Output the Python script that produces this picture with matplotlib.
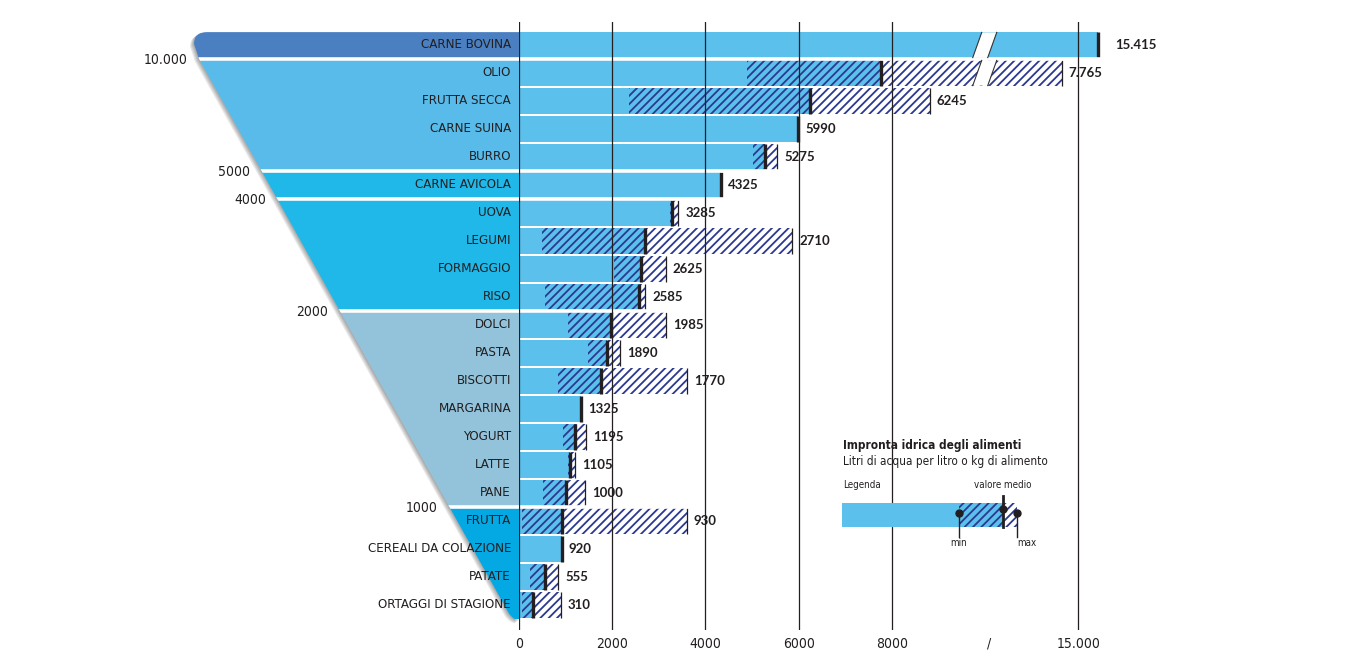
import numpy as np
import matplotlib.pyplot as plt
from matplotlib.path import Path
from matplotlib.patches import PathPatch, Polygon

plt.rcParams['font.family'] = ['DejaVu Sans']
plt.rcParams['font.stretch'] = 'condensed'
plt.rcParams['hatch.color'] = '#2b3990'
plt.rcParams['hatch.linewidth'] = 1.3

# data: water footprint, litres per kg / litre of food
foods = ['CARNE BOVINA', 'OLIO', 'FRUTTA SECCA', 'CARNE SUINA', 'BURRO', 'CARNE AVICOLA',
         'UOVA', 'LEGUMI', 'FORMAGGIO', 'RISO', 'DOLCI', 'PASTA', 'BISCOTTI', 'MARGARINA',
         'YOGURT', 'LATTE', 'PANE', 'FRUTTA', 'CEREALI DA COLAZIONE', 'PATATE',
         'ORTAGGI DI STAGIONE']
means = [15415, 7765, 6245, 5990, 5275, 4325, 3285, 2710, 2625, 2585, 1985, 1890, 1770,
         1325, 1195, 1105, 1000, 930, 920, 555, 310]
mins = [15415, 4890, 2360, 5990, 5030, 4325, 3240, 490, 2040, 560, 1050, 1480, 840,
        1325, 950, 1050, 520, 60, 920, 240, 60]
maxs = [15415, 14650, 8820, 5990, 5540, 4325, 3420, 5860, 3150, 2710, 3150, 2170, 3600,
        1325, 1440, 1200, 1420, 3600, 920, 840, 900]
value_labels = ['15.415', '7.765', '6245', '5990', '5275', '4325', '3285', '2710', '2625',
                '2585', '1985', '1890', '1770', '1325', '1195', '1105', '1000', '930', '920',
                '555', '310']

# groups on the left funnel (first row of each group) and threshold labels
group_starts = [0, 1, 5, 6, 10, 17]
group_colors = ['#4a7fc1', '#58bbea', '#1fb8e8', '#1fb8e8', '#93c3db', '#04a9e4']
thresholds = ['10.000', '5000', '4000', '2000', '1000']

xticks = [0, 2000, 4000, 6000, 8000, 15000]
xtick_labels = ['0', '2000', '4000', '6000', '8000', '15.000']

BAR_BLUE = '#5bc0eb'
TEXT = '#231f20'

# broken axis: 10000..13000 is cut out
B_LO, B_HI = 10000, 13000


def fwd(v):
    v = np.asarray(v, float)
    return np.where(v <= B_LO, v, np.where(v >= B_HI, v - (B_HI - B_LO), B_LO))


def inv(t):
    t = np.asarray(t, float)
    return np.where(t <= B_LO, t, t + (B_HI - B_LO))


W, H = 1345, 667
fig = plt.figure(figsize=(W / 100, H / 100), dpi=100)
y_top, y_bot = 22, 630
ylim = ((y_bot - 45) / 28, (y_top - 45) / 28)
ax_rect_y = ((H - y_bot) / H, (y_bot - y_top) / H)

ax = fig.add_axes([519 / W, ax_rect_y[0], 681 / W, ax_rect_y[1]])
axf = fig.add_axes([0, ax_rect_y[0], 519 / W, ax_rect_y[1]])
for a in (ax, axf):
    a.set_ylim(*ylim)
    a.patch.set_alpha(0)
    for s in a.spines.values():
        s.set_visible(False)

ax.set_xscale('function', functions=(fwd, inv))
ax.set_xlim(0, float(inv(14614)))

y = np.arange(len(foods))
mins_a, means_a, maxs_a = np.array(mins), np.array(means), np.array(maxs)
bh = 0.9

# bars
ax.barh(y, mins_a, height=bh, color=BAR_BLUE, linewidth=0, zorder=2)
rng = means_a > mins_a
ax.barh(y[rng], (means_a - mins_a)[rng], left=mins_a[rng], height=bh, color=BAR_BLUE,
        hatch='////', linewidth=0, zorder=2)
up = maxs_a > means_a
ax.barh(y[up], (maxs_a - means_a)[up], left=means_a[up], height=bh, color='white',
        hatch='////', linewidth=0, zorder=2)
ax.vlines(maxs_a[up], y[up] - bh / 2, y[up] + bh / 2, color=TEXT, lw=0.9, zorder=3)
ax.vlines(means_a, y - bh / 2, y + bh / 2, color=TEXT, lw=2.4, zorder=4)

for yi, xv, lab in zip(y, maxs_a, value_labels):
    pad = 13 if lab == value_labels[0] else 5
    ax.annotate(lab, (xv, yi), xytext=(pad, 0), textcoords='offset points', va='center',
                ha='left', fontsize=9.5, fontweight='bold', color=TEXT,
                family=['Lato', 'DejaVu Sans'], fontstretch='normal')

# gridlines on top of bars
for xv in xticks:
    ax.axvline(xv, color=TEXT, lw=0.9, zorder=5)

# axis break marker on the two longest rows
for r in (0, 1):
    t_top = np.array([B_LO - 70, B_LO + 252])
    t_bot = np.array([B_LO - 263, B_LO + 59])
    yt, yb = r - bh / 2, r + bh / 2
    ax.add_patch(Polygon([(inv(t_top[0]), yt), (inv(t_top[1]), yt),
                          (inv(t_bot[1]), yb), (inv(t_bot[0]), yb)],
                         closed=True, facecolor='white', edgecolor='none', zorder=6))
    for k in (0, 1):
        ax.plot([inv(t_top[k]), inv(t_bot[k])], [yt, yb], color='#333333', lw=0.8, zorder=7)

ax.set_xticks(xticks + [float(inv(B_LO + 80))])
ax.set_xticklabels(xtick_labels + ['/'])
ax.tick_params(axis='x', length=0, pad=5, labelsize=10, labelcolor=TEXT)
ax.set_yticks([])

# left funnel (x in pixels, y in rows)
axf.set_xlim(0, 519)
axf.set_xticks([])
axf.set_yticks([])


def diag(r):
    return 192.2 + 15.6 * r


top, bottom = -0.46, 20.55
verts = [(519, top), (207, top), (194, top), (194, top + 0.42), (199, 0.5),
         (diag(20.3), 20.3), (514, bottom), (519, bottom), (519, top)]
codes = [Path.MOVETO, Path.LINETO, Path.CURVE3, Path.CURVE3, Path.LINETO,
         Path.LINETO, Path.CURVE3, Path.CURVE3, Path.CLOSEPOLY]
funnel = Path(verts, codes)

# soft shadow
for k in range(1, 5):
    sh = Path([(vx - 1.0 * k, vy + 0.025 * k) for vx, vy in verts], codes)
    axf.add_patch(PathPatch(sh, facecolor='black', edgecolor='none', alpha=0.09, zorder=1))

clip = PathPatch(funnel, facecolor='none', edgecolor='none', zorder=2)
axf.add_patch(clip)
bounds = group_starts + [len(foods)]
for i, col in enumerate(group_colors):
    band = axf.axhspan(bounds[i] - 0.5, bounds[i + 1] - 0.5, color=col, lw=0, zorder=2)
    band.set_clip_path(clip)
for b, lab in zip(group_starts[1:], thresholds):
    ln = axf.axhline(b - 0.5, color='white', lw=2.6, zorder=3)
    ln.set_clip_path(clip)
    axf.text(diag(b - 0.5) - 12, b - 0.46, lab, ha='right', va='center', fontsize=10,
             color=TEXT)
# white separators continue across the bars
for b in group_starts[1:]:
    ax.axhline(b - 0.5, color='white', lw=2.6, zorder=4.5)

for yi, name in zip(y, foods):
    axf.text(511, yi, name, ha='right', va='center', fontsize=9.5, color=TEXT, zorder=4)

# legend box
axl = fig.add_axes([835 / W, (H - 555) / H, 230 / W, 120 / H])
axl.set_xlim(835, 1065)
axl.set_ylim(555, 435)
axl.axis('off')
lg_min, lg_mean, lg_max = 959, 1003, 1017
axl.text(843, 446, 'Impronta idrica degli alimenti', fontsize=8.5, fontweight='bold',
         color=TEXT, va='center')
axl.text(843, 461, 'Litri di acqua per litro o kg di alimento', fontsize=8.5, color=TEXT,
         va='center')
axl.text(843, 485, 'Legenda', fontsize=7, color=TEXT, va='center')
axl.barh(515, lg_min - 842, left=842, height=24, color=BAR_BLUE, linewidth=0)
axl.barh(515, lg_mean - lg_min, left=lg_min, height=24, color=BAR_BLUE, hatch='////',
         linewidth=0)
axl.barh(515, lg_max - lg_mean, left=lg_mean, height=24, color='white', hatch='////',
         linewidth=0)
axl.plot([lg_mean, lg_mean], [496, 527], color=TEXT, lw=2)
axl.plot([lg_min, lg_min], [513, 537], color=TEXT, lw=1)
axl.plot([lg_max, lg_max], [513, 537], color=TEXT, lw=1)
axl.plot([lg_min, lg_mean, lg_max], [513, 509, 513], 'o', color=TEXT, ms=5)
axl.text(lg_mean, 485, 'valore medio', fontsize=7, color=TEXT, ha='center', va='center')
axl.text(lg_min, 543, 'min', fontsize=7, color=TEXT, ha='center', va='center')
axl.text(lg_max + 10, 543, 'max', fontsize=7, color=TEXT, ha='center', va='center')

fig.savefig('out.png', dpi=100)
